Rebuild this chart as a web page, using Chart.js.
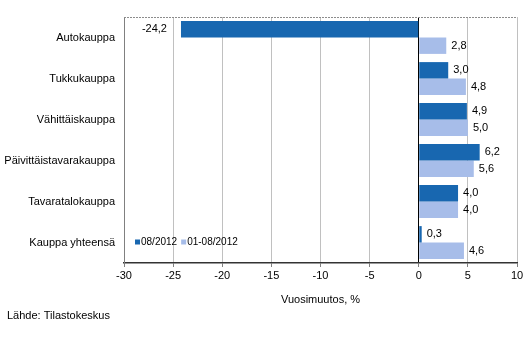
<!DOCTYPE html>
<html>
<head>
<meta charset="utf-8">
<script src="https://cdn.jsdelivr.net/npm/chart.js@4/dist/chart.umd.min.js"></script>
<style>
html,body{margin:0;padding:0;background:#fff;}
#wrap{width:532px;height:358px;}
</style>
</head>
<body>
<div id="wrap"><canvas id="c" width="532" height="358"></canvas></div>
<script>
const categories = ["Autokauppa","Tukkukauppa","Vähittäiskauppa","Päivittäistavarakauppa","Tavaratalokauppa","Kauppa yhteensä"];
const seriesNames = ["08/2012","01-08/2012"];
const monthValues = [-24.2, 3.0, 4.9, 6.2, 4.0, 0.3];
const periodValues = [2.8, 4.8, 5.0, 5.6, 4.0, 4.6];
const xTicks = [-30,-25,-20,-15,-10,-5,0,5,10];
const axisTitle = "Vuosimuutos, %";
const sourceText = "Lähde: Tilastokeskus";

const FONT = "'Liberation Sans', Arial, sans-serif";
const DARK = "#1867B0";
const LIGHT = "#A7BDE9";

const fmt = v => v.toFixed(1).replace('.', ',');

const labelPlugin = {
  id: 'labels',
  afterDatasetsDraw(chart) {
    const ctx = chart.ctx;
    ctx.save();
    ctx.font = "11px " + FONT;
    ctx.fillStyle = "#000";
    ctx.textBaseline = "middle";
    chart.data.datasets.forEach((ds, di) => {
      const meta = chart.getDatasetMeta(di);
      meta.data.forEach((bar, i) => {
        const v = ds.data[i];
        const t = fmt(v);
        if (v < 0) {
          ctx.textAlign = "right";
          ctx.fillText(t, bar.x - 14, bar.y);
        } else {
          ctx.textAlign = "left";
          ctx.fillText(t, bar.x + 5, bar.y);
        }
      });
    });
    ctx.restore();
  }
};

const framePlugin = {
  id: 'frame',
  afterDraw(chart) {
    const ctx = chart.ctx;
    const a = chart.chartArea;
    ctx.save();
    // top border
    ctx.strokeStyle = "#8c8c8c";
    ctx.lineWidth = 1;
    ctx.setLineDash([2, 1]);
    ctx.beginPath();
    ctx.moveTo(a.left, a.top + 0.5);
    ctx.lineTo(a.right, a.top + 0.5);
    ctx.stroke();
    ctx.setLineDash([]);
    // legend inside plot
    ctx.font = "10px " + FONT;
    ctx.textBaseline = "middle";
    ctx.textAlign = "left";
    const ly = a.bottom - 21;
    let lx = a.left + 11;
    chart.data.datasets.forEach(ds => {
      ctx.fillStyle = ds.backgroundColor;
      ctx.fillRect(lx, ly - 2.5, 5, 5);
      ctx.fillStyle = "#000";
      ctx.fillText(ds.label, lx + 6, ly);
      lx += 6 + ctx.measureText(ds.label).width + 4;
    });
    // source
    ctx.font = "11px " + FONT;
    ctx.fillText(sourceText, 7, 316);
    ctx.restore();
  }
};

new Chart(document.getElementById('c'), {
  type: 'bar',
  data: {
    labels: categories,
    datasets: [
      { label: seriesNames[0], data: monthValues, backgroundColor: DARK },
      { label: seriesNames[1], data: periodValues, backgroundColor: LIGHT }
    ]
  },
  options: {
    indexAxis: 'y',
    responsive: false,
    animation: false,
    devicePixelRatio: 1,
    layout: { padding: { left: 0, right: 15, top: 17, bottom: 51 } },
    datasets: { bar: { barPercentage: 1.0, categoryPercentage: 0.8 } },
    plugins: { legend: { display: false }, tooltip: { enabled: false } },
    scales: {
      x: {
        min: -30, max: 10,
        afterBuildTicks: s => { s.ticks = xTicks.map(v => ({ value: v })); },
        afterFit: s => { s.height = 44; },
        ticks: { font: { family: FONT, size: 11 }, color: "#000", padding: 2, maxRotation: 0 },
        grid: {
          color: ctx => (ctx.tick && ctx.tick.value === 0) ? "#000" : "#c0c0c0",
          tickColor: "#808080",
          tickLength: 4,
          lineWidth: 1
        },
        border: { display: true, color: "#333", width: 1.5 },
        title: { display: true, text: axisTitle, font: { family: FONT, size: 11 }, color: "#000", padding: { top: 0, bottom: 0 } }
      },
      y: {
        afterFit: s => { s.width = 124; },
        ticks: { font: { family: FONT, size: 11 }, color: "#000", padding: 9 },
        grid: { display: false, drawTicks: false },
        border: { display: true, color: "#808080", width: 1 }
      }
    }
  },
  plugins: [labelPlugin, framePlugin]
});
</script>
</body>
</html>
